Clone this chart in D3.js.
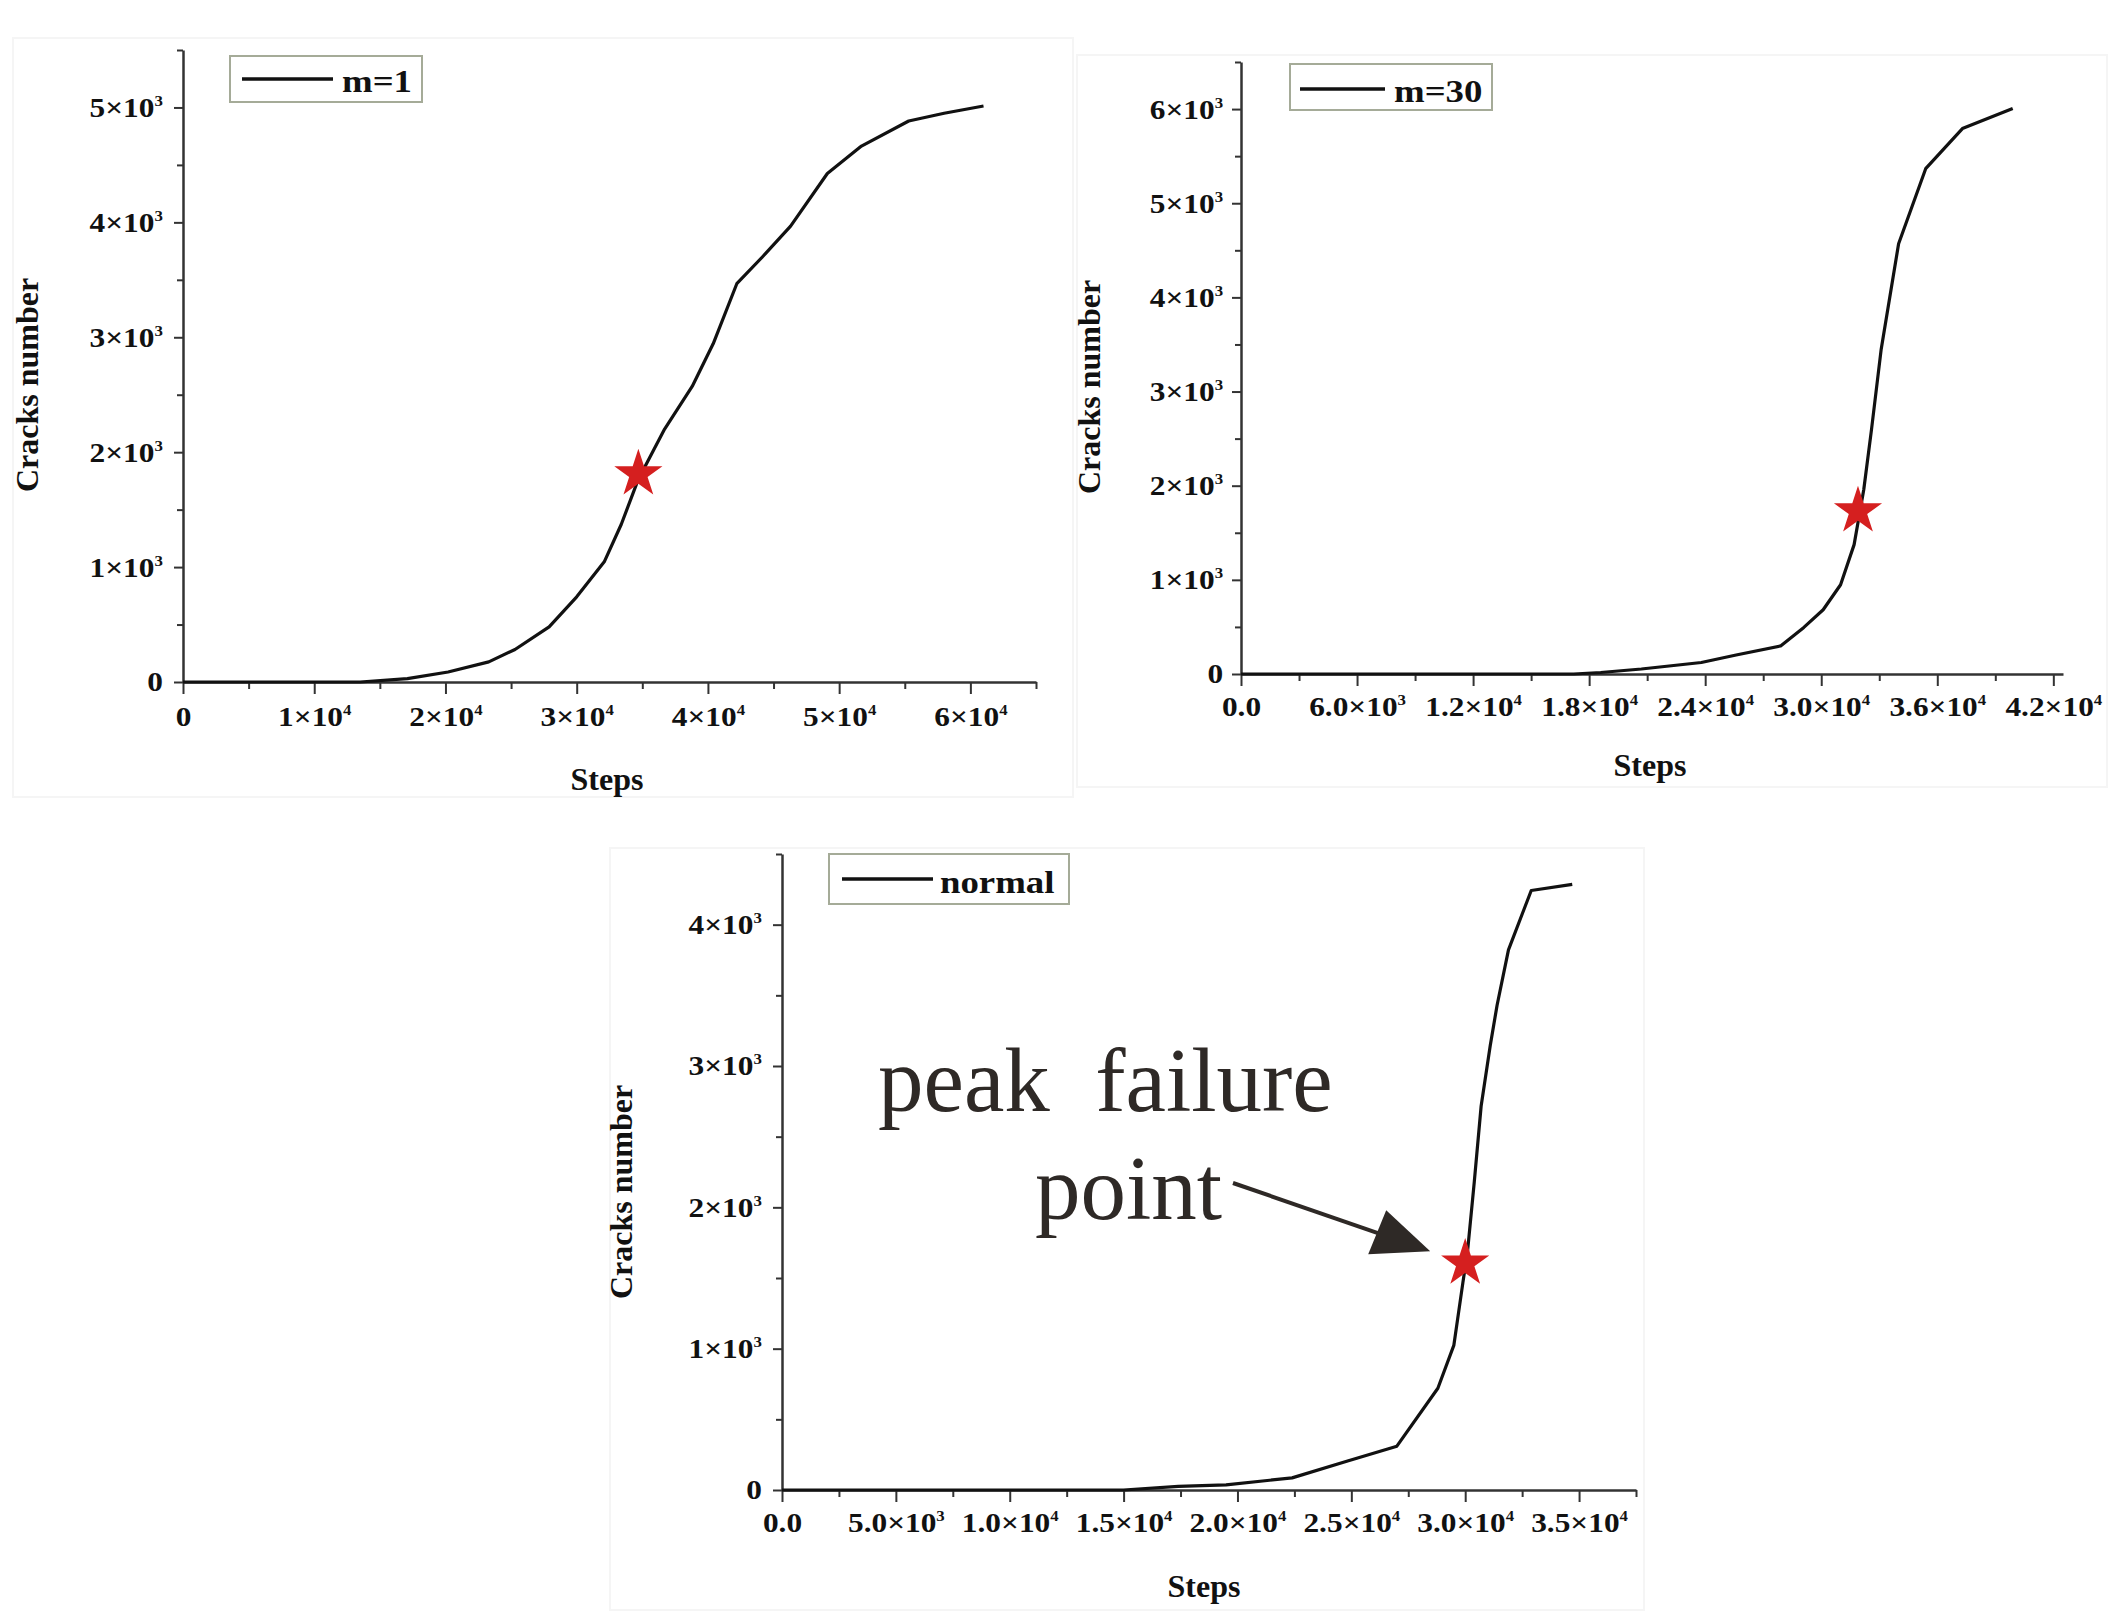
<!DOCTYPE html>
<html><head><meta charset="utf-8">
<script src="https://cdn.jsdelivr.net/npm/d3@7"></script>
<style>body{margin:0;background:#fff}svg{display:block}</style>
</head><body>
<svg id="c" width="2117" height="1615"></svg>
<script>
// ---------- DATA ----------
// Panel m=1
const stepsM1  = [0, 5000, 10000, 13500, 17100, 20200, 23300, 25300, 27900, 30000, 32100, 33400, 34700, 36700, 38800, 40400, 42200, 44200, 46300, 49100, 51700, 55300, 58000, 61000];
const cracksM1 = [0, 0, 0, 0, 30, 87, 175, 283, 480, 741, 1046, 1373, 1765, 2201, 2572, 2943, 3466, 3705, 3967, 4425, 4664, 4882, 4950, 5013];
const peakM1 = [34700, 1810];
const xTicksM1 = [0, 10000, 20000, 30000, 40000, 50000, 60000];
const xLabelsM1 = ["0", "1×10^4", "2×10^4", "3×10^4", "4×10^4", "5×10^4", "6×10^4"];
const yTicksM1 = [0, 1000, 2000, 3000, 4000, 5000];
const yLabelsM1 = ["0", "1×10^3", "2×10^3", "3×10^3", "4×10^3", "5×10^3"];

// Panel m=30
const stepsM30  = [0, 16500, 17200, 18600, 20700, 23800, 25600, 27900, 29100, 30100, 31000, 31700, 32200, 32600, 33100, 34000, 35400, 37300, 39900];
const cracksM30 = [0, 0, 0, 16, 53, 122, 202, 298, 495, 682, 948, 1374, 1960, 2598, 3450, 4569, 5367, 5793, 6006];
const peakM30 = [31900, 1730];
const xTicksM30 = [0, 6000, 12000, 18000, 24000, 30000, 36000, 42000];
const xLabelsM30 = ["0.0", "6.0×10^3", "1.2×10^4", "1.8×10^4", "2.4×10^4", "3.0×10^4", "3.6×10^4", "4.2×10^4"];
const yTicksM30 = [0, 1000, 2000, 3000, 4000, 5000, 6000];
const yLabelsM30 = ["0", "1×10^3", "2×10^3", "3×10^3", "4×10^3", "5×10^3", "6×10^3"];

// Panel normal
const stepsN  = [0, 15000, 17400, 19500, 22400, 24800, 27000, 28800, 29500, 29900, 30100, 30400, 30700, 31100, 31400, 31900, 32900, 34700];
const cracksN = [0, 0, 25, 36, 86, 203, 310, 720, 1023, 1469, 1683, 2182, 2717, 3145, 3430, 3822, 4242, 4285];
const peakN = [30000, 1604];
const xTicksN = [0, 5000, 10000, 15000, 20000, 25000, 30000, 35000];
const xLabelsN = ["0.0", "5.0×10^3", "1.0×10^4", "1.5×10^4", "2.0×10^4", "2.5×10^4", "3.0×10^4", "3.5×10^4"];
const yTicksN = [0, 1000, 2000, 3000, 4000];
const yLabelsN = ["0", "1×10^3", "2×10^3", "3×10^3", "4×10^3"];

const legendNames = ["m=1", "m=30", "normal"];
const xTitle = "Steps", yTitle = "Cracks number";
const annotation = ["peak  failure", "point"];

// ---------- DRAW ----------
const svg = d3.select("#c");
const SERIF = "'Liberation Serif','Times New Roman',serif";
const SX = 1.12;

function fmtLabel(textSel, lab) {
  const parts = lab.split("^");
  textSel.text(null);
  textSel.append("tspan").text(parts[0]);
  if (parts[1]) textSel.append("tspan").attr("dy", -11).attr("font-size", 15).text(parts[1]);
}

function drawPanel(o) {
  const x = d3.scaleLinear().domain(o.xDomain).range(o.xRange);
  const y = d3.scaleLinear().domain(o.yDomain).range(o.yRange);
  const g = svg.append("g");
  g.append("rect").attr("x", o.frame[0]).attr("y", o.frame[1]).attr("width", o.frame[2]).attr("height", o.frame[3])
    .attr("fill", "none").attr("stroke", "#f5f5f5").attr("stroke-width", 2);

  const y0 = o.yRange[0], x0 = o.xRange[0];
  const xMinor = d3.range(o.xMinorStep, o.xDomain[1] + 1, o.xMinorStep).filter(v => !o.xTicks.includes(v));
  const yMinor = d3.range(o.yMinorStep, o.yDomain[1] + 1, o.yMinorStep).filter(v => !o.yTicks.includes(v));
  g.append("g").attr("transform", `translate(0,${y0})`)
    .call(d3.axisBottom(x).tickValues(xMinor).tickSize(7).tickSizeOuter(0).tickFormat(""))
    .call(a => { a.select(".domain").remove(); a.selectAll("line").attr("stroke", "#333").attr("stroke-width", 2); });
  g.append("g").attr("transform", `translate(${x0},0)`)
    .call(d3.axisLeft(y).tickValues(yMinor).tickSize(6).tickSizeOuter(0).tickFormat(""))
    .call(a => { a.select(".domain").remove(); a.selectAll("line").attr("stroke", "#333").attr("stroke-width", 2); });

  const xa = g.append("g").attr("transform", `translate(0,${y0})`)
    .call(d3.axisBottom(x).tickValues(o.xTicks).tickSize(12).tickSizeOuter(0).tickPadding(o.xPad)
      .tickFormat((d, i) => o.xLabels[i]));
  const ya = g.append("g").attr("transform", `translate(${x0},0)`)
    .call(d3.axisLeft(y).tickValues(o.yTicks).tickSize(9).tickSizeOuter(0).tickPadding(o.yPad)
      .tickFormat((d, i) => o.yLabels[i]));
  [xa, ya].forEach(a => {
    a.select(".domain").attr("stroke", "#333").attr("stroke-width", 2.5);
    a.selectAll(".tick line").attr("stroke", "#333").attr("stroke-width", 2);
    a.selectAll(".tick text").attr("font-family", SERIF).attr("font-weight", "bold")
      .attr("font-size", 28).attr("fill", "#111").attr("transform", `scale(${SX},1)`)
      .each(function(d, i) { fmtLabel(d3.select(this), (a === xa ? o.xLabels : o.yLabels)[i]); });
  });

  g.append("text").attr("x", o.xTitlePos[0]).attr("y", o.xTitlePos[1]).attr("text-anchor", "middle")
    .attr("font-family", SERIF).attr("font-weight", "bold").attr("font-size", 32).attr("fill", "#111").text(xTitle);
  g.append("text").attr("transform", `translate(${o.yTitlePos[0]},${o.yTitlePos[1]}) rotate(-90)`).attr("text-anchor", "middle")
    .attr("font-family", SERIF).attr("font-weight", "bold").attr("font-size", 32).attr("fill", "#111").text(yTitle);

  const line = d3.line().x(d => x(d[0])).y(d => y(d[1])).curve(d3.curveLinear);
  const pts = o.steps.map((s, i) => [s, o.cracks[i]]);
  g.append("path").datum(pts).attr("d", line).attr("fill", "none").attr("stroke", "#111")
    .attr("stroke-width", 3.2).attr("stroke-linejoin", "round");

  g.append("path").attr("d", d3.symbol().type(d3.symbolStar).size(720)())
    .attr("transform", `translate(${x(o.peak[0])},${y(o.peak[1])})`).attr("fill", "#d51f1f");

  const L = o.legend;
  g.append("rect").attr("x", L.box[0]).attr("y", L.box[1]).attr("width", L.box[2]).attr("height", L.box[3])
    .attr("fill", "#fff").attr("stroke", "#a5ab98").attr("stroke-width", 2);
  g.append("line").attr("x1", L.line[0]).attr("x2", L.line[1]).attr("y1", L.line[2]).attr("y2", L.line[2])
    .attr("stroke", "#111").attr("stroke-width", 3.5);
  g.append("g").attr("transform", `translate(${L.text[0]},${L.text[1]})`)
    .append("text").attr("transform", `scale(1.15,1)`).attr("font-family", SERIF).attr("font-weight", "bold")
    .attr("font-size", 32).attr("fill", "#111").text(L.name);
  return {x, y};
}

drawPanel({
  steps: stepsM1, cracks: cracksM1, peak: peakM1,
  xDomain: [0, 65000], xRange: [183, 1036], yDomain: [0, 5500], yRange: [682, 50],
  xTicks: xTicksM1, xLabels: xLabelsM1, yTicks: yTicksM1, yLabels: yLabelsM1,
  xMinorStep: 5000, yMinorStep: 500, xPad: 12, yPad: 9,
  xTitlePos: [607, 790], yTitlePos: [38, 385],
  frame: [13, 38, 1060, 759],
  legend: {box: [230, 56, 192, 46], line: [242, 333, 79], text: [342, 92], name: legendNames[0]}
});

drawPanel({
  steps: stepsM30, cracks: cracksM30, peak: peakM30,
  xDomain: [0, 42500], xRange: [1241, 2063], yDomain: [0, 6500], yRange: [674, 62],
  xTicks: xTicksM30, xLabels: xLabelsM30, yTicks: yTicksM30, yLabels: yLabelsM30,
  xMinorStep: 3000, yMinorStep: 500, xPad: 10, yPad: 7,
  xTitlePos: [1650, 776], yTitlePos: [1100, 387],
  frame: [1077, 55, 1030, 732],
  legend: {box: [1290, 64, 202, 46], line: [1300, 1385, 89], text: [1394, 102], name: legendNames[1]}
});

const p3 = drawPanel({
  steps: stepsN, cracks: cracksN, peak: peakN,
  xDomain: [0, 37500], xRange: [782, 1636], yDomain: [0, 4500], yRange: [1490, 854],
  xTicks: xTicksN, xLabels: xLabelsN, yTicks: yTicksN, yLabels: yLabelsN,
  xMinorStep: 2500, yMinorStep: 500, xPad: 10, yPad: 9,
  xTitlePos: [1204, 1597], yTitlePos: [632, 1192],
  frame: [610, 848, 1034, 762],
  legend: {box: [829, 854, 240, 50], line: [842, 933, 879], text: [940, 893], name: legendNames[2]}
});

const ann = svg.append("g");
ann.append("text").attr("x", 878).attr("y", 1111).attr("font-family", SERIF).attr("font-size", 91)
  .attr("fill", "#2e2926").style("white-space", "pre").text(annotation[0]);
ann.append("text").attr("x", 1035).attr("y", 1219).attr("font-family", SERIF).attr("font-size", 91)
  .attr("fill", "#2e2926").text(annotation[1]);
const sx = p3.x(peakN[0]), sy = p3.y(peakN[1]);
const tip = [sx - 35, sy - 12];
ann.append("line").attr("x1", 1233).attr("y1", 1183).attr("x2", tip[0] - 40).attr("y2", tip[1] - 14)
  .attr("stroke", "#2e2926").attr("stroke-width", 4);
ann.append("path").attr("d", `M${tip[0]},${tip[1]} L${tip[0] - 44},${tip[1] - 41} L${tip[0] - 62},${tip[1] + 3} Z`)
  .attr("fill", "#2e2926");
</script>
</body></html>
